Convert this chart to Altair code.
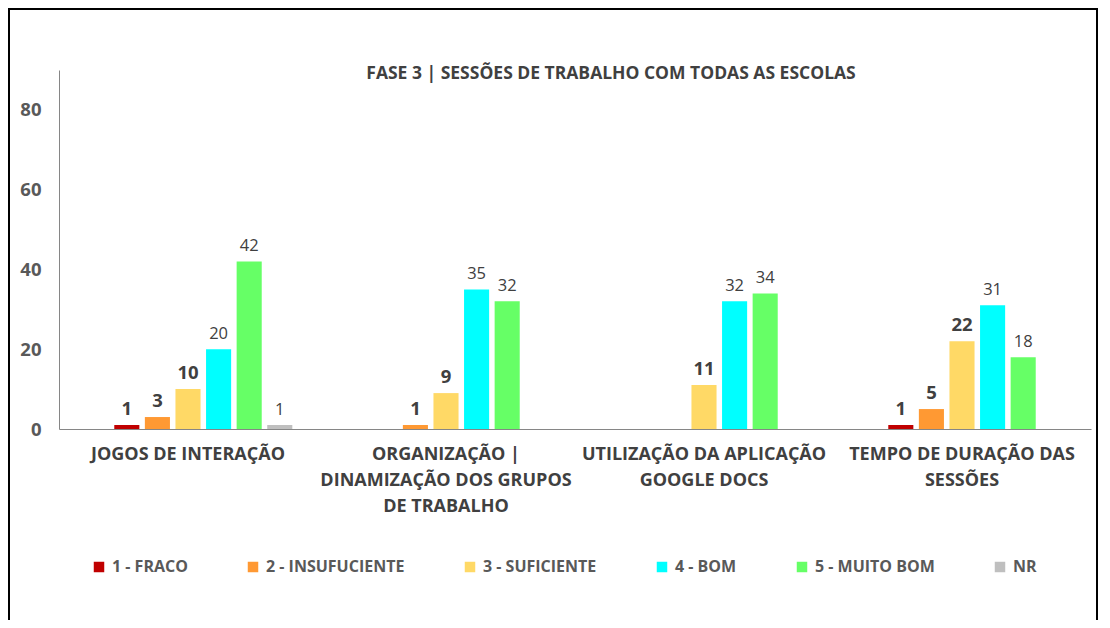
import altair as alt
import pandas as pd

categories = [
    "JOGOS DE INTERAÇÃO",
    "ORGANIZAÇÃO |\nDINAMIZAÇÃO DOS GRUPOS\nDE TRABALHO",
    "UTILIZAÇÃO DA APLICAÇÃO\nGOOGLE DOCS",
    "TEMPO DE DURAÇÃO DAS\nSESSÕES",
]
series = ["1 - FRACO", "2 - INSUFUCIENTE", "3 - SUFICIENTE", "4 - BOM", "5 - MUITO BOM", "NR"]
colors = ["#C00000", "#FF9933", "#FFD966", "#00FFFF", "#66FF66", "#BFBFBF"]

fraco = [1, None, None, 1]
insuficiente = [3, 1, None, 5]
suficiente = [10, 9, 11, 22]
bom = [20, 35, 32, 31]
muito_bom = [42, 32, 34, 18]
nr = [1, None, None, None]

all_values = [fraco, insuficiente, suficiente, bom, muito_bom, nr]
rows = []
for si, (s, vals) in enumerate(zip(series, all_values)):
    for c, v in zip(categories, vals):
        if v is not None:
            rows.append({"cat": c, "series": s, "value": v, "bold": si < 3})
df = pd.DataFrame(rows)

FONT = "Open Sans"
TXT = "#404040"

x_enc = alt.X(
    "cat:N",
    sort=categories,
    scale=alt.Scale(domain=categories, paddingInner=0.17, paddingOuter=0.085),
    axis=alt.Axis(
        title=None, labelAngle=0, labelExpr="split(datum.label, '\\n')",
        labelFont=FONT, labelFontSize=18, labelFontWeight="bold", labelColor=TXT,
        labelLineHeight=26, labelPadding=16, labelBaseline="top", labelLimit=400,
        ticks=False, domainColor="#868686", domainWidth=1.2,
    ),
)
xo_enc = alt.XOffset(
    "series:N",
    scale=alt.Scale(domain=[" "] + series, paddingInner=0.18, paddingOuter=0.09),
)
y_enc = alt.Y(
    "value:Q",
    scale=alt.Scale(domain=[0, 90]),
    axis=alt.Axis(
        title=None, values=[0, 20, 40, 60, 80], grid=False, ticks=False,
        domainColor="#868686", labelFont=FONT, labelFontSize=18.5,
        labelFontWeight="bold", labelColor="#595959", labelPadding=18,
    ),
)

base = alt.Chart(df)

bars = base.mark_bar().encode(
    x=x_enc, xOffset=xo_enc, y=y_enc,
    color=alt.Color(
        "series:N",
        scale=alt.Scale(domain=series, range=colors),
        legend=alt.Legend(
            title=None, orient="none", legendX=32, legendY=489,
            direction="horizontal", columns=6, columnPadding=57,
            symbolType="square", symbolSize=110, symbolStrokeWidth=0,
            labelFont=FONT, labelFontSize=16, labelFontWeight="bold",
            labelColor="#595959", labelOffset=5,
        ),
    ),
)

labels_bold = base.transform_filter("datum.bold").mark_text(
    baseline="bottom", dy=-6, font=FONT, fontSize=18.5, fontWeight="bold", color=TXT
).encode(x=x_enc, xOffset=xo_enc, y=y_enc, text="value:Q")

labels_norm = base.transform_filter("!datum.bold").mark_text(
    baseline="bottom", dy=-7, font=FONT, fontSize=16.5, fontWeight="normal", color=TXT
).encode(x=x_enc, xOffset=xo_enc, y=y_enc, text="value:Q")

border = alt.Chart(alt.Data(values=[{}])).mark_rect(
    fill=None, stroke="black", strokeWidth=2
).encode(
    x=alt.value(-50), x2=alt.value(1038), y=alt.value(-61), y2=alt.value(600)
)

chart = alt.layer(border, bars, labels_bold, labels_norm).properties(
    width=1032,
    height=359,
    title=alt.Title(
        "FASE 3 | SESSÕES DE TRABALHO COM TODAS AS ESCOLAS",
        font=FONT, fontSize=17.5, fontWeight="bold", color=TXT,
        anchor="middle", dx=36, dy=74, offset=0,
    ),
    autosize=alt.AutoSizeParams(type="none"),
    padding={"left": 51, "top": 62, "right": 8, "bottom": 191},
).configure(background="white", view=alt.ViewConfig(stroke=None))

chart.save("out.html", embed_options={"renderer": "svg", "actions": False})
